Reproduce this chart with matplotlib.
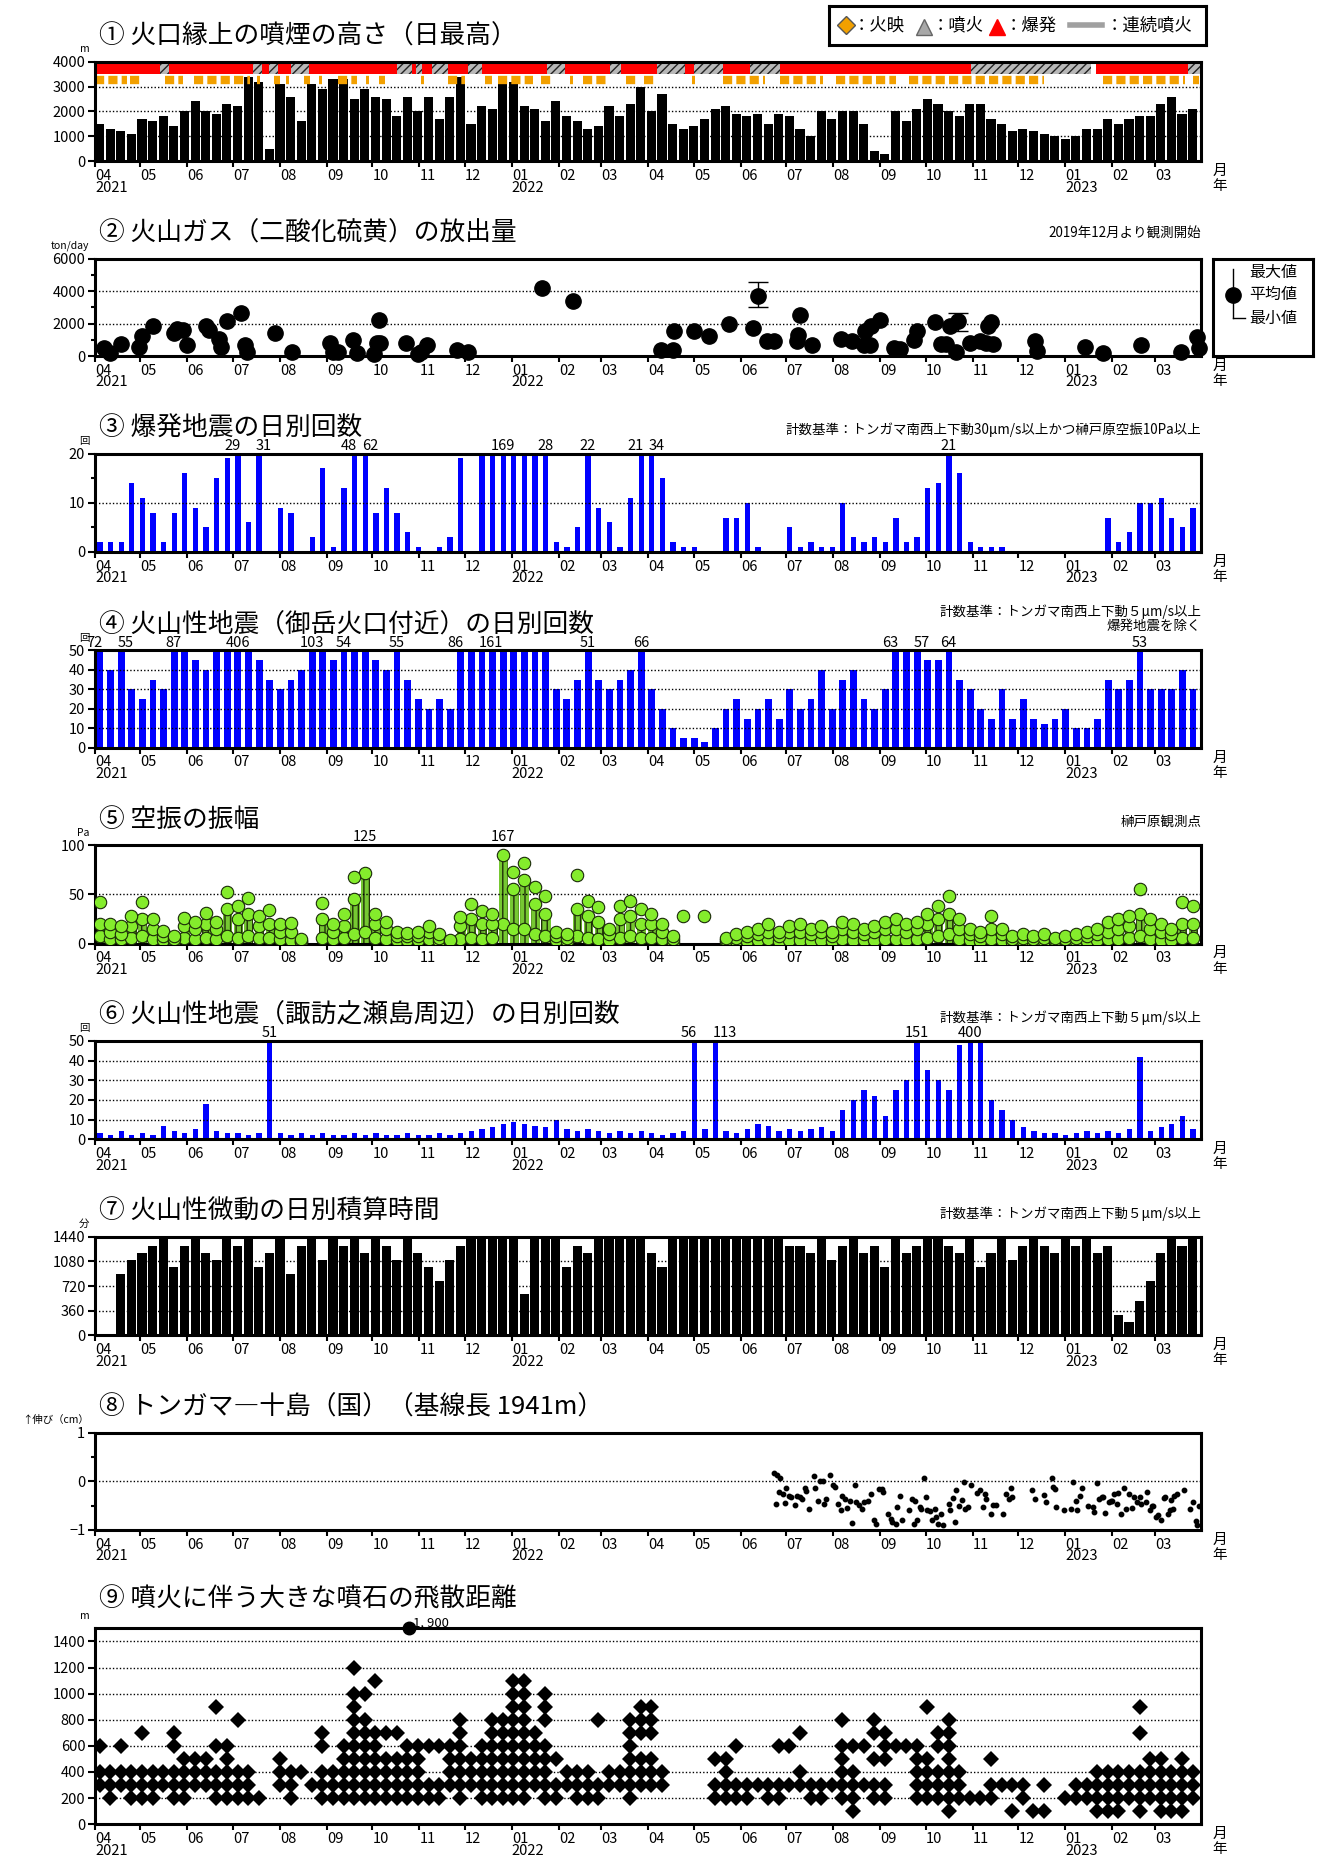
import numpy as np
import pandas as pd
import matplotlib
matplotlib.use('Agg')
import matplotlib.pyplot as plt
import matplotlib.dates as mdates
from matplotlib.ticker import MultipleLocator

plt.rcParams['font.family'] = ['Noto Sans CJK JP', 'DejaVu Sans']
plt.rcParams['hatch.linewidth'] = 1.0
plt.rcParams['hatch.color'] = '#222222'

T0 = mdates.date2num(pd.Timestamp('2021-04-01'))
T1 = mdates.date2num(pd.Timestamp('2023-03-31 18:00'))
weeks = mdates.date2num(pd.date_range('2021-04-01', periods=104, freq='7D'))
week_mid = weeks + 3

# ---- 1: plume height (weekly max, m)
plume_height = [1500, 1300, 1200, 1100, 1700, 1600, 1800, 1400, 2000, 2400,
                2000, 1900, 2300, 2200, 3400, 3200, 500, 3100, 2600, 1600,
                3100, 2900, 3300, 3300, 2500, 2900, 2600, 2500, 1800, 2600,
                2000, 2600, 1700, 2600, 3400, 1500, 2200, 2100, 3100, 3200,
                2200, 2100, 1600, 2400, 1800, 1600, 1300, 1400, 2200, 1800,
                2300, 3000, 2000, 2700, 1500, 1300, 1400, 1700, 2100, 2200,
                1900, 1800, 1900, 1500, 1900, 1800, 1300, 1000, 2000, 1700,
                2000, 2000, 1500, 400, 300, 2000, 1600, 2100, 2500, 2300,
                2000, 1800, 2300, 2300, 1700, 1500, 1200, 1300, 1200, 1100,
                1000, 900, 1000, 1300, 1300, 1700, 1500, 1700, 1800, 1800,
                2300, 2600, 1900, 2100]
explosion_periods = [('2021-04-01', '2021-05-14'), ('2021-05-20', '2021-07-14'),
                     ('2021-07-20', '2021-07-25'), ('2021-07-31', '2021-08-08'),
                     ('2021-08-20', '2021-10-17'), ('2021-10-27', '2021-10-30'),
                     ('2021-11-03', '2021-11-09'), ('2021-11-20', '2021-12-03'),
                     ('2021-12-12', '2022-01-24'), ('2022-02-05', '2022-03-07'),
                     ('2022-03-14', '2022-04-07'), ('2022-04-25', '2022-05-01'),
                     ('2022-05-20', '2022-06-07'), ('2022-06-27', '2022-10-31'),
                     ('2023-01-21', '2023-03-23')]
eruption_periods = [('2021-05-14', '2021-05-20'), ('2021-07-14', '2021-07-20'),
                    ('2021-07-25', '2021-07-31'), ('2021-08-08', '2021-08-20'),
                    ('2021-10-17', '2021-10-27'), ('2021-10-30', '2021-11-03'),
                    ('2021-11-09', '2021-11-20'), ('2021-12-03', '2021-12-12'),
                    ('2022-01-24', '2022-02-05'), ('2022-03-07', '2022-03-14'),
                    ('2022-04-07', '2022-04-25'), ('2022-05-01', '2022-05-20'),
                    ('2022-06-07', '2022-06-27'), ('2022-10-31', '2023-01-18'),
                    ('2023-03-23', '2023-03-31')]
glow_periods = [('2021-04-01', '2021-04-22'), ('2021-04-24', '2021-05-01'),
                ('2021-05-17', '2021-05-29'), ('2021-06-05', '2021-07-12'),
                ('2021-07-17', '2021-07-19'), ('2021-07-28', '2021-08-01'),
                ('2021-08-05', '2021-08-07'), ('2021-08-17', '2021-08-21'),
                ('2021-08-27', '2021-08-29'), ('2021-09-08', '2021-09-21'),
                ('2021-09-27', '2021-09-29'), ('2021-10-05', '2021-10-09'),
                ('2021-11-02', '2021-11-04'), ('2021-11-20', '2021-12-01'),
                ('2021-12-14', '2021-12-19'), ('2021-12-23', '2022-01-15'),
                ('2022-01-20', '2022-01-27'), ('2022-02-08', '2022-02-10'),
                ('2022-02-17', '2022-03-04'), ('2022-03-17', '2022-03-24'),
                ('2022-03-29', '2022-04-07'), ('2022-04-30', '2022-05-02'),
                ('2022-05-20', '2022-06-17'), ('2022-06-27', '2022-07-25'),
                ('2022-08-03', '2022-09-11'), ('2022-09-20', '2022-12-18'),
                ('2023-01-26', '2023-03-21'), ('2023-03-26', '2023-03-30')]

# ---- 2: SO2 (ton/day)
so2_dates = ['2021-04-07', '2021-04-11', '2021-04-18', '2021-04-30', '2021-05-02',
             '2021-05-09', '2021-05-23', '2021-05-25', '2021-05-29', '2021-06-01',
             '2021-06-13', '2021-06-15', '2021-06-22', '2021-06-23', '2021-06-27',
             '2021-07-06', '2021-07-09', '2021-07-10', '2021-07-29', '2021-08-09',
             '2021-09-03', '2021-09-05', '2021-09-08', '2021-09-18', '2021-09-21',
             '2021-10-02', '2021-10-04', '2021-10-05', '2021-10-06', '2021-10-23',
             '2021-10-31', '2021-11-02', '2021-11-06', '2021-11-26', '2021-12-03',
             '2022-01-21', '2022-02-10', '2022-04-09', '2022-04-17', '2022-04-18',
             '2022-05-01', '2022-05-11', '2022-05-24', '2022-06-09', '2022-06-12',
             '2022-06-18', '2022-06-23', '2022-07-08', '2022-07-09', '2022-07-10',
             '2022-07-18', '2022-08-06', '2022-08-13', '2022-08-21', '2022-08-22',
             '2022-08-25', '2022-08-26', '2022-09-01', '2022-09-10', '2022-09-14',
             '2022-09-23', '2022-09-25', '2022-10-07', '2022-10-11', '2022-10-14',
             '2022-10-17', '2022-10-21', '2022-10-22', '2022-10-30', '2022-11-06',
             '2022-11-10', '2022-11-11', '2022-11-13', '2022-11-14', '2022-12-12',
             '2022-12-13', '2023-01-14', '2023-01-26', '2023-02-20', '2023-03-18',
             '2023-03-29', '2023-03-30']
so2_values = [480, 170, 730, 580, 1250, 1830, 1420, 1670, 1625, 690,
              1830, 1625, 1040, 580, 2150, 2670, 650, 270, 1420, 270,
              790, 270, 270, 960, 210, 125, 790, 2250, 830, 830,
              125, 270, 650, 375, 270, 4170, 3400, 375, 375, 1560,
              1560, 1210, 1980, 1730, 3710, 900, 900, 900, 1310, 2500,
              690, 1040, 900, 650, 1520, 650, 1875, 2210, 480, 440,
              1000, 1560, 2080, 750, 750, 1830, 270, 2150, 830, 900,
              830, 1875, 2080, 750, 900, 330, 580, 170, 650, 270,
              1170, 480]
so2_err_dates = ['2022-06-12', '2022-10-22']
so2_err_low = [3040, 1520]
so2_err_high = [4540, 2670]

# ---- 3: explosion earthquakes (weekly max count)
explosion_quakes = [2, 2, 2, 14, 11, 8, 2, 8, 16, 9, 5, 15, 19, 29, 6, 31, 0, 9, 8, 0,
                    3, 17, 1, 13, 48, 62, 8, 13, 8, 4, 1, 0, 1, 3, 19, 0, 20, 20, 169, 20,
                    20, 20, 28, 2, 1, 5, 22, 9, 6, 1, 11, 21, 34, 15, 2, 1, 1, 0, 0, 7,
                    7, 10, 1, 0, 0, 5, 1, 2, 1, 1, 10, 3, 2, 3, 2, 7, 2, 3, 13, 14,
                    21, 16, 2, 1, 1, 1, 0, 0, 0, 0, 0, 0, 0, 0, 0, 7, 2, 4, 10, 10,
                    11, 7, 5, 9]

# ---- 4: volcanic earthquakes near Otake crater
summit_quakes = [72, 40, 55, 30, 25, 35, 30, 87, 50, 45, 40, 50, 50, 406, 50, 45, 35, 30, 35, 40,
                 103, 50, 45, 54, 50, 50, 45, 40, 55, 35, 25, 20, 25, 20, 86, 50, 161, 50, 50, 50,
                 50, 50, 50, 30, 25, 35, 51, 35, 30, 35, 40, 66, 30, 20, 10, 5, 5, 3, 10, 20,
                 25, 15, 20, 25, 15, 30, 20, 25, 40, 20, 35, 40, 25, 20, 30, 63, 50, 57, 45, 45,
                 64, 35, 30, 20, 15, 30, 15, 25, 15, 12, 15, 20, 10, 10, 15, 35, 30, 35, 53, 30,
                 30, 30, 40, 30]

# ---- 5: infrasound amplitude (Pa)
nan = np.nan
amp_max = [42, 20, 18, 28, 42, 25, 13, 8, 26, 22, 31, 22, 52, 38, 46, 28, 34, 20, 21, 5,
           nan, 41, 20, 30, 68, 125, 30, 22, 12, 11, 12, 18, 10, 4, 27, 40, 33, 30, 167, 73,
           82, 57, 48, 12, 10, 70, 43, 37, 15, 38, 43, 35, 30, 20, 8, 28, nan, 28, nan, 6,
           10, 12, 15, 20, 12, 18, 20, 15, 18, 12, 22, 20, 15, 18, 22, 25, 20, 22, 30, 38,
           48, 25, 15, 12, 28, 15, 8, 10, 8, 10, 6, 8, 10, 12, 15, 22, 25, 28, 55, 25,
           20, 15, 42, 38]
amp_mid = [20, 12, 10, 18, 25, 15, 8, 5, 18, 15, 20, 15, 35, 25, 30, 18, 20, 12, 12, 3,
           nan, 25, 12, 18, 45, 72, 20, 15, 8, 8, 8, 12, 6, 3, 18, 25, 20, 20, 90, 55,
           65, 40, 30, 8, 6, 35, 28, 22, 10, 25, 28, 20, 20, 12, 5, nan, nan, nan, nan, 4,
           6, 8, 10, 12, 8, 12, 12, 10, 12, 8, 15, 12, 10, 12, 15, 15, 12, 15, 20, 25,
           30, 15, 10, 8, 15, 10, 5, 6, 5, 6, 4, 5, 6, 8, 10, 12, 15, 18, 30, 15,
           12, 10, 20, 20]
amp_low = [8, 5, 5, 6, 8, 5, 4, 3, 6, 5, 6, 5, 8, 6, 8, 6, 6, 5, 4, 2,
           nan, 6, 5, 6, 10, 12, 6, 5, 4, 4, 4, 5, 3, 2, 5, 6, 5, 6, 20, 15,
           15, 10, 8, 4, 3, 8, 6, 5, 4, 6, 8, 6, 6, 5, 2, nan, nan, nan, nan, 2,
           3, 3, 4, 5, 3, 4, 4, 3, 4, 3, 5, 4, 4, 4, 5, 5, 4, 5, 6, 8,
           10, 5, 4, 3, 5, 4, 2, 3, 2, 3, 2, 2, 3, 3, 4, 5, 5, 6, 8, 5,
           4, 4, 6, 6]

# ---- 6: volcanic earthquakes around Suwanosejima
island_quakes = [3, 2, 4, 2, 3, 2, 7, 4, 3, 5, 18, 4, 3, 3, 2, 3, 51, 3, 2, 3,
                 2, 3, 2, 2, 3, 2, 3, 2, 2, 3, 2, 2, 3, 2, 3, 4, 5, 6, 8, 9,
                 8, 7, 6, 10, 5, 4, 5, 4, 3, 4, 3, 4, 3, 2, 3, 4, 56, 5, 113, 4,
                 3, 5, 8, 7, 4, 5, 4, 5, 6, 4, 15, 20, 25, 22, 12, 25, 30, 151, 35, 30,
                 25, 48, 400, 50, 20, 15, 10, 6, 4, 3, 3, 2, 3, 4, 3, 4, 3, 5, 42, 4,
                 6, 8, 12, 5]

# ---- 7: volcanic tremor duration (minutes per day)
tremor_minutes = [0, 0, 900, 1100, 1200, 1300, 1440, 1000, 1300, 1440,
                  1200, 1100, 1440, 1300, 1440, 1000, 1200, 1440, 900, 1300,
                  1440, 1100, 1440, 1300, 1440, 1200, 1440, 1300, 1100, 1440,
                  1200, 1000, 800, 1100, 1300, 1440, 1440, 1440, 1440, 1440,
                  600, 1440, 1440, 1440, 1000, 1300, 1200, 1440, 1440, 1440,
                  1440, 1440, 1200, 1000, 1440, 1440, 1440, 1440, 1440, 1440,
                  1440, 1440, 1440, 1440, 1440, 1300, 1300, 1200, 1440, 1100,
                  1300, 1440, 1200, 1300, 1000, 1440, 1200, 1300, 1440, 1440,
                  1300, 1200, 1440, 1000, 1200, 1440, 1100, 1300, 1440, 1300,
                  1200, 1440, 1300, 1440, 1200, 1300, 300, 200, 500, 800,
                  1200, 1440, 1300, 1440]

# ---- 8: GNSS baseline (day index from 2021-04-01, cm)
gnss_day = [448, 450, 452, 449, 451, 454, 455, 456, 458, 459,
            462, 463, 465, 466, 468, 469, 471, 474, 475, 477,
            478, 480, 481, 482, 485, 487, 488, 490, 492, 493,
            495, 496, 498, 499, 501, 502, 504, 506, 507, 510,
            512, 514, 515, 517, 519, 520, 523, 525, 526, 528,
            529, 531, 532, 537, 539, 540, 541, 542, 544, 545,
            547, 548, 549, 551, 552, 554, 555, 556, 558, 559,
            563, 564, 566, 567, 568, 570, 572, 573, 574, 576,
            578, 582, 584, 586, 587, 588, 591, 592, 594, 599,
            601, 603, 604, 605, 618, 620, 626, 627, 631, 632,
            633, 634, 639, 644, 645, 647, 648, 650, 651, 655,
            658, 659, 661, 662, 664, 665, 666, 669, 670, 671,
            672, 674, 675, 677, 679, 680, 682, 684, 685, 687,
            689, 690, 693, 694, 696, 697, 698, 700, 701, 703,
            705, 706, 708, 709, 710, 711, 712, 714, 718, 722,
            724, 726, 727, 728]
gnss_cm = [0.17, 0.13, 0.07, -0.47, -0.23, -0.27, -0.45, -0.13, -0.30, -0.33,
           -0.48, -0.30, -0.33, -0.37, -0.13, -0.20, -0.57, 0.11, -0.13, -0.40,
           0.00, 0.01, -0.47, -0.37, 0.12, -0.07, -0.12, -0.47, -0.59, -0.30,
           -0.37, -0.55, -0.40, -0.85, -0.07, -0.43, -0.48, -0.57, -0.43, -0.40,
           -0.27, -0.79, -0.88, -0.15, -0.15, -0.23, -0.67, -0.77, -0.83, -0.87,
           -0.53, -0.30, -0.79, -0.59, -0.37, -0.87, -0.40, -0.80, -0.52, -0.57,
           0.07, -0.33, -0.59, -0.61, -0.79, -0.57, -0.73, -0.87, -0.67, -0.90,
           -0.47, -0.59, -0.35, -0.83, -0.17, -0.50, -0.39, -0.02, -0.57, -0.53,
           -0.08, -0.25, -0.17, -0.53, -0.27, -0.37, -0.68, -0.48, -0.48, -0.68,
           -0.27, -0.37, -0.13, -0.32, -0.17, -0.37, -0.29, -0.43, 0.07, -0.12,
           -0.15, -0.53, -0.60, -0.57, -0.01, -0.41, -0.59, -0.30, -0.13, -0.50,
           -0.52, -0.63, -0.03, -0.37, -0.33, -0.33, -0.65, -0.43, -0.40, -0.41,
           -0.27, -0.47, -0.25, -0.68, -0.13, -0.57, -0.27, -0.55, -0.32, -0.43,
           -0.33, -0.47, -0.43, -0.23, -0.60, -0.50, -0.50, -0.73, -0.70, -0.80,
           -0.35, -0.33, -0.67, -0.60, -0.39, -0.57, -0.30, -0.27, -0.17, -0.57,
           -0.43, -0.81, -0.90, -0.50]

# ---- 9: ballistic distance (week index -> distances, m)
stone_levels = {
    0: [300, 400, 600], 1: [200, 300, 400], 2: [300, 400, 600], 3: [200, 300, 400],
    4: [200, 300, 400, 700], 5: [200, 300, 400], 6: [300, 400],
    7: [200, 300, 400, 600, 700], 8: [200, 300, 400, 500], 9: [300, 400, 500],
    10: [300, 400, 500], 11: [200, 300, 400, 600, 900], 12: [200, 300, 400, 500, 600],
    13: [200, 300, 400, 800], 14: [200, 300, 400], 15: [200], 17: [300, 400, 500],
    18: [200, 300, 400], 19: [400], 20: [300], 21: [200, 300, 400, 600, 700],
    22: [200, 300, 400], 23: [200, 300, 400, 500, 600],
    24: [200, 300, 400, 500, 600, 700, 800, 900, 1000, 1200],
    25: [200, 300, 400, 500, 600, 700, 800, 1000],
    26: [200, 300, 400, 500, 600, 700, 1100], 27: [200, 300, 400, 500, 700],
    28: [200, 300, 400, 500, 700], 29: [200, 300, 400, 500, 600],
    30: [200, 300, 400, 500, 600], 31: [200, 300, 600], 32: [200, 300, 600],
    33: [300, 400, 500, 600], 34: [200, 300, 400, 500, 600, 700, 800],
    35: [300, 400, 500], 36: [200, 300, 400, 500, 600],
    37: [200, 300, 400, 500, 600, 700, 800], 38: [200, 300, 400, 500, 600, 700, 800],
    39: [200, 300, 400, 500, 600, 700, 800, 900, 1000, 1100],
    40: [200, 300, 400, 500, 600, 700, 800, 900, 1000, 1100],
    41: [300, 400, 500, 600, 700], 42: [200, 300, 400, 500, 600, 800, 900, 1000],
    43: [200, 300, 500], 44: [300, 400], 45: [200, 300, 400], 46: [200, 300, 400],
    47: [200, 300, 800], 48: [300, 400], 49: [300, 400],
    50: [200, 300, 400, 500, 600, 700, 800], 51: [300, 400, 500, 700, 800, 900],
    52: [300, 400, 500, 700, 800, 900], 53: [300, 400],
    58: [200, 300, 500], 59: [200, 300, 400, 500], 60: [200, 300, 600], 61: [200, 300],
    62: [300], 63: [200, 300], 64: [200, 300, 600], 65: [300, 600], 66: [300, 400, 700],
    67: [200, 300], 68: [200, 300], 69: [300], 70: [200, 300, 400, 500, 600, 800],
    71: [100, 200, 300, 400, 600], 72: [300, 600], 73: [200, 300, 500, 700, 800],
    74: [200, 300, 500, 600, 700], 75: [600], 76: [600], 77: [200, 300, 400, 500, 600],
    78: [200, 300, 400, 500, 900], 79: [200, 300, 400, 600, 700],
    80: [100, 200, 300, 400, 500, 600, 700, 800], 81: [200, 300, 400], 82: [200],
    83: [200], 84: [200, 300, 500], 85: [300], 86: [100, 300], 87: [200, 300], 88: [100],
    89: [100, 300], 91: [200], 92: [200, 300], 93: [200, 300], 94: [100, 200, 300, 400],
    95: [100, 200, 300, 400], 96: [100, 200, 300, 400], 97: [200, 300, 400],
    98: [100, 200, 300, 400, 700, 900], 99: [200, 300, 400, 500],
    100: [100, 200, 300, 400, 500], 101: [100, 200, 300, 400],
    102: [100, 200, 300, 400, 500], 103: [200, 300, 400],
}
stone_far_date = '2021-10-25'
stone_far_value = 1900

titles = ['① 火口縁上の噴煙の高さ（日最高）',
          '② 火山ガス（二酸化硫黄）の放出量',
          '③ 爆発地震の日別回数',
          '④ 火山性地震（御岳火口付近）の日別回数',
          '⑤ 空振の振幅',
          '⑥ 火山性地震（諏訪之瀬島周辺）の日別回数',
          '⑦ 火山性微動の日別積算時間',
          '⑧ トンガマ―十島（国）（基線長 1941m）',
          '⑨ 噴火に伴う大きな噴石の飛散距離']
units = ['m', 'ton/day', '回', '回', 'Pa', '回', '分', '↑伸び（cm）', 'm']

fig = plt.figure(figsize=(13.25, 18.61), dpi=100)
LEFT, WIDTH = 0.0717, 0.835
rows = [(0.9133, 0.0536), (0.8087, 0.0523), (0.7034, 0.0529), (0.5982, 0.0523),
        (0.4930, 0.0529), (0.3878, 0.0529), (0.2825, 0.0529), (0.1779, 0.0523),
        (0.0198, 0.1052)]
months = mdates.date2num(pd.date_range('2021-04-01', '2023-03-01', freq='MS'))
month_labels = [d.strftime('%m') for d in pd.date_range('2021-04-01', '2023-03-01', freq='MS')]
jans = mdates.date2num(pd.to_datetime(['2022-01-01', '2023-01-01']))
years = [('2021-04-01', '2021'), ('2022-01-01', '2022'), ('2023-01-01', '2023')]


def make_axes(i, ymin, ymax, major, minor=None, title_dy=18):
    ax = fig.add_axes([LEFT, rows[i][0], WIDTH, rows[i][1]])
    ax.set_xlim(T0, T1)
    ax.set_ylim(ymin, ymax)
    ax.yaxis.set_major_locator(MultipleLocator(major))
    if minor:
        ax.yaxis.set_minor_locator(MultipleLocator(minor))
    ax.set_xticks(months)
    ax.set_xticklabels(month_labels, ha='left')
    ax.set_xticks(jans, minor=True)
    ax.tick_params(axis='x', which='major', length=4, width=1.5, labelsize=10.5, pad=1.5)
    ax.tick_params(axis='x', which='minor', length=15, width=1.5)
    ax.tick_params(axis='y', which='major', length=5, width=1.5, labelsize=10.5, pad=2)
    ax.tick_params(axis='y', which='minor', length=3, width=1.5)
    for s in ax.spines.values():
        s.set_linewidth(2.2)
    ax.grid(axis='y', which='major', color='black', linestyle=(0, (1, 1.5)), linewidth=1.0)
    ax.set_axisbelow(False)
    for d, y in years:
        ax.annotate(y, xy=(mdates.date2num(pd.Timestamp(d)), 0),
                    xycoords=('data', 'axes fraction'), xytext=(0, -14),
                    textcoords='offset points', ha='left', va='top', fontsize=10.5)
    ax.annotate('月', xy=(1, 0), xycoords='axes fraction', xytext=(8, -2),
                textcoords='offset points', ha='left', va='top', fontsize=10.5)
    ax.annotate('年', xy=(1, 0), xycoords='axes fraction', xytext=(8, -13),
                textcoords='offset points', ha='left', va='top', fontsize=10.5)
    ax.annotate(titles[i], xy=(0, 1), xycoords='axes fraction', xytext=(3, title_dy),
                textcoords='offset points', ha='left', va='center', fontsize=18.5)
    ax.annotate(units[i], xy=(0, 1), xycoords='axes fraction', xytext=(-4, 9),
                textcoords='offset points', ha='right', va='center', fontsize=7.5)
    return ax


def note(ax, text, dy=17):
    ax.annotate(text, xy=(1, 1), xycoords='axes fraction', xytext=(0, dy),
                textcoords='offset points', ha='right', va='center', fontsize=9.7)


def overflow(ax, x, vals, top):
    idx = [i for i, v in enumerate(vals) if v > top]
    for j, i in enumerate(idx):
        near_prev = j > 0 and i - idx[j - 1] <= 2
        near_next = j < len(idx) - 1 and idx[j + 1] - i <= 2
        ha, dx = 'center', 0
        if near_prev:
            ha, dx = 'left', -2
        elif near_next:
            ha, dx = 'right', 2
        ax.annotate(f'{vals[i]}', xy=(x[i], top), xytext=(dx, 0.5), textcoords='offset points',
                    ha=ha, va='bottom', fontsize=10.5)


def spans(periods):
    out = []
    for s, e in periods:
        a = mdates.date2num(pd.Timestamp(s))
        b = mdates.date2num(pd.Timestamp(e))
        out.append((a, b - a))
    return out


# panel 1
ax = make_axes(0, 0, 4000, 1000)
ax.bar(weeks, plume_height, width=6, align='edge', color='black', linewidth=0)
ax.broken_barh(spans(explosion_periods), (3500, 500), facecolors='#ff0000', linewidth=0)
ax.broken_barh(spans(eruption_periods), (3500, 500), facecolors='#b8b8b8',
               edgecolors='#222222', hatch='////', linewidth=0)
g = spans(glow_periods)
ax.hlines([3250] * len(g), [a for a, w in g], [a + w for a, w in g], colors='#f2a000',
          linewidth=6, linestyles=(0, (1.1, 0.5)))

# top legend box
lg = fig.add_axes([0.6257, 0.9758, 0.2845, 0.021])
lg.set_xlim(0, 1)
lg.set_ylim(0, 1)
lg.set_xticks([])
lg.set_yticks([])
for s in lg.spines.values():
    s.set_linewidth(2.2)
lg.plot(0.044, 0.5, marker='D', ms=9, mfc='#f2a000', mec='#555555', mew=1)
lg.text(0.062, 0.5, '：火映', va='center', fontsize=12.5)
lg.plot(0.251, 0.45, marker='^', ms=11, mfc='#a8a8a8', mec='#666666')
lg.text(0.272, 0.5, '：噴火', va='center', fontsize=12.5)
lg.plot(0.446, 0.45, marker='^', ms=11, mfc='#ff0000', mec='#ff0000')
lg.text(0.466, 0.5, '：爆発', va='center', fontsize=12.5)
lg.plot([0.64, 0.725], [0.5, 0.5], color='#a0a0a0', lw=4)
lg.text(0.735, 0.5, '：連続噴火', va='center', fontsize=12.5)

# panel 2
ax = make_axes(1, 0, 6000, 2000, 1000)
sd = mdates.date2num(pd.to_datetime(so2_dates))
ax.plot(sd, so2_values, 'o', color='black', ms=11, clip_on=False)
ed = mdates.date2num(pd.to_datetime(so2_err_dates))
ev = [so2_values[so2_dates.index(d)] for d in so2_err_dates]
ax.errorbar(ed, ev, yerr=[np.array(ev) - np.array(so2_err_low),
                          np.array(so2_err_high) - np.array(ev)],
            fmt='none', ecolor='black', elinewidth=1, capsize=7, capthick=1)
note(ax, '2019年12月より観測開始', dy=18)
lg2 = fig.add_axes([0.9158, 0.8087, 0.0755, 0.0521])
lg2.set_xlim(0, 1)
lg2.set_ylim(0, 1)
lg2.set_xticks([])
lg2.set_yticks([])
for s in lg2.spines.values():
    s.set_linewidth(2.2)
lg2.plot([0.2, 0.2], [0.39, 0.9], color='black', lw=1)
lg2.plot([0.2, 0.32], [0.39, 0.39], color='black', lw=1)
lg2.plot(0.2, 0.63, 'o', color='black', ms=11)
for yy, t in [(0.86, '最大値'), (0.63, '平均値'), (0.39, '最小値')]:
    lg2.text(0.36, yy, t, va='center', fontsize=11.5)

# panel 3
ax = make_axes(2, 0, 20, 10, 5)
ax.bar(weeks + 1.5, explosion_quakes, width=3.5, align='edge', color='#0000ff', linewidth=0)
overflow(ax, week_mid, explosion_quakes, 20)
note(ax, '計数基準：トンガマ南西上下動30μm/s以上かつ榊戸原空振10Pa以上', dy=17)

# panel 4
ax = make_axes(3, 0, 50, 10)
ax.bar(weeks + 1, summit_quakes, width=4.5, align='edge', color='#0000ff', linewidth=0)
overflow(ax, week_mid, summit_quakes, 50)
note(ax, '計数基準：トンガマ南西上下動５μm/s以上', dy=28)
note(ax, '爆発地震を除く', dy=18)

# panel 5
ax = make_axes(4, 0, 100, 50)
ax.bar(weeks + 0.5, amp_mid, width=6, align='edge', color='#76c832',
       edgecolor='#1f3008', hatch='|||', linewidth=0)
for arr in (amp_low, amp_mid, amp_max):
    ax.scatter(week_mid, arr, s=80, c='#84ec2c', edgecolors='#1a2a08', linewidths=0.8, zorder=3)
overflow(ax, week_mid, amp_max, 100)
note(ax, '榊戸原観測点', dy=17)

# panel 6
ax = make_axes(5, 0, 50, 10)
ax.bar(weeks + 1.5, island_quakes, width=3.5, align='edge', color='#0000ff', linewidth=0)
overflow(ax, week_mid, island_quakes, 50)
note(ax, '計数基準：トンガマ南西上下動５μm/s以上', dy=17)

# panel 7
ax = make_axes(6, 0, 1440, 360)
ax.bar(weeks, tremor_minutes, width=6, align='edge', color='black', linewidth=0)
note(ax, '計数基準：トンガマ南西上下動５μm/s以上', dy=17)

# panel 8
ax = make_axes(7, -1, 1, 1, 0.5)
gd = T0 + np.array(gnss_day)
ax.plot(gd, gnss_cm, 'o', color='black', ms=3.2)

# panel 9
ax = make_axes(8, 0, 1500, 200, title_dy=21)
sx, sy = [], []
for k, levels in stone_levels.items():
    for lv in levels:
        sx.append(week_mid[k])
        sy.append(lv)
ax.plot(sx, sy, 'D', color='black', ms=8.5, mew=0)
fd = mdates.date2num(pd.Timestamp(stone_far_date))
ax.plot(fd, min(stone_far_value, 1500), 'o', color='black', ms=9, clip_on=False, zorder=5)
ax.annotate(f'{stone_far_value:,}'.replace(',', ', '), xy=(fd, 1500), xytext=(3, -1),
            textcoords='offset points', ha='left', va='bottom', fontsize=9.5)

fig.savefig('out.png', dpi=100)
